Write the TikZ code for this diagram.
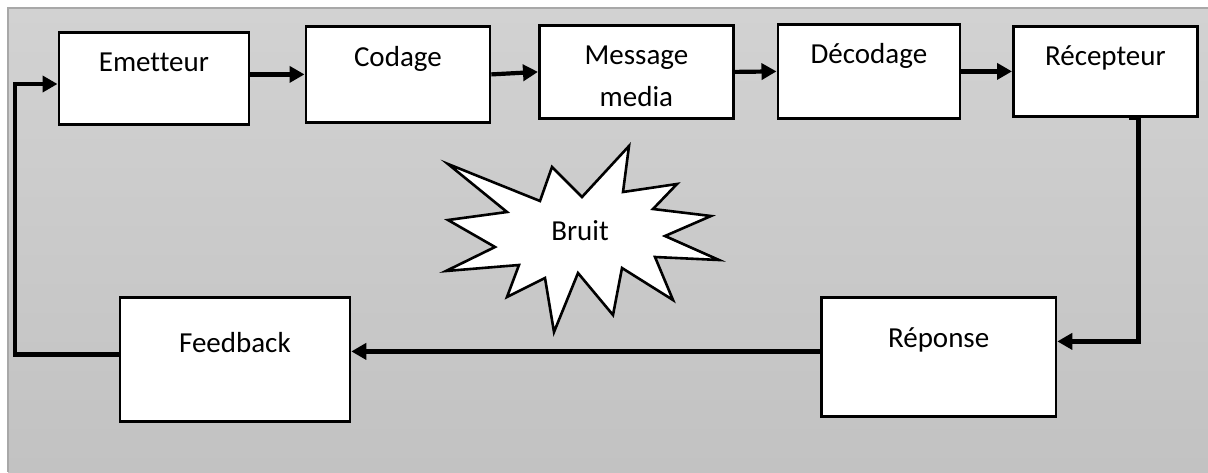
\documentclass[tikz,border=0pt]{standalone}
\usepackage{fontspec}
\setmainfont{Carlito}[Ligatures=NoCommon]
\usetikzlibrary{arrows.meta,calc}
\definecolor{bgtop}{HTML}{D2D2D2}
\definecolor{bgbot}{HTML}{C2C2C2}
\definecolor{bgedge}{HTML}{A8A8A8}
\begin{document}
\begin{tikzpicture}[x=1pt,y=-1pt,
  box/.style={draw=black, fill=white, line width=2.8pt, inner sep=0pt, anchor=north west},
  lbl/.style={anchor=center, inner sep=0pt, font=\fontsize{29}{42}\selectfont, align=center},
  arr/.style={line width=4.2pt, -{Triangle[length=15pt,width=16pt]}},
  burst/.style={draw=black, fill=white, line width=2.6pt, line join=miter}]
\useasboundingbox (0,0) rectangle (1208,472);
\shade[top color=bgtop, bottom color=bgbot] (8,8) rectangle (1208,472);
\draw[bgedge, line width=1.5pt] (8,472) -- (8,8) -- (1208,8);

\node[box, minimum width=190pt, minimum height=92pt,
  label={[lbl, yshift=-31.5pt]north:Emetteur}] (em) at (57.5,31) {};
\node[box, minimum width=184pt, minimum height=96pt,
  label={[lbl, yshift=-34pt]north:Codage}] (co) at (304.5,25) {};
\node[box, minimum width=194pt, minimum height=93pt,
  label={[lbl, yshift=-52pt]north:Message\\media}] (ms) at (538,24) {};
\node[box, minimum width=182pt, minimum height=94pt,
  label={[lbl, yshift=-33pt]north:Décodage}] (de) at (776.5,23) {};
\node[box, minimum width=184pt, minimum height=90pt,
  label={[lbl, yshift=-33pt]north:Récepteur}] (re) at (1012,25) {};
\node[box, minimum width=230pt, minimum height=124pt,
  label={[lbl, yshift=-47pt]north:Feedback}] (fb) at (118.5,296) {};
\node[box, minimum width=234.5pt, minimum height=119pt,
  label={[lbl, yshift=-44pt]north:Réponse}] (rp) at (820,296) {};

\draw[burst] (448,164) -- (540,201) -- (552,167) -- (582,197) -- (629,146)
  -- (623,192) -- (677,184) -- (653,209) -- (711,216) -- (665,236)
  -- (719,260) -- (655,257) -- (673,300) -- (622,268) -- (613,315)
  -- (578,273) -- (554,332) -- (545,278) -- (507,297) -- (519,265)
  -- (446,271) -- (495,247) -- (448,220) -- (507,212) -- cycle;
\node[lbl] (br) at (580,231) {Bruit};

\draw[arr] (em.east |- co.west) -- (co.west);
\draw[arr] (co.east) -- (ms.west);
\draw[arr] (ms.east) -- (de.west);
\draw[arr] (de.east) -- (re.west);
\draw[arr] ([xshift=24pt]re.south) -- ([xshift=33pt]re.south) |- ([yshift=15.5pt]rp.east);
\draw[arr] ([yshift=5.5pt]rp.west) -- ([yshift=5.5pt]rp.west -| fb.east);
\coordinate (lc) at (15,84);
\draw[arr] ([yshift=5pt]fb.west) -| (lc) -- (lc -| em.west);
\end{tikzpicture}
\end{document}
